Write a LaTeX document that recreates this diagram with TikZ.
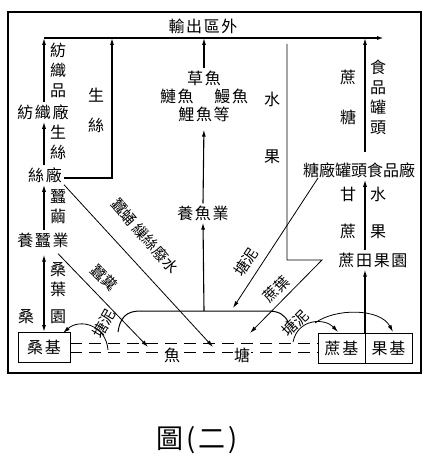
\documentclass[tikz,border=0pt]{standalone}
\usepackage{fontspec}
\newfontfamily\cjk[LetterSpace=10]{Noto Sans CJK TC}
\newfontfamily\cjktight{Noto Sans CJK TC}
\usetikzlibrary{positioning, arrows.meta}
\newcommand{\zh}{\cjk\fontsize{16}{20}\selectfont}

\begin{document}
\begin{tikzpicture}[
		x=1pt, y=-1pt,
		txt/.style={inner sep=2pt, align=center, font=\zh},
		slant/.style={inner sep=1pt, font=\cjktight\fontsize{15}{18}\selectfont},
		box/.style={draw, line width=1pt, rectangle, minimum width=47pt, minimum height=30pt, inner sep=0pt, outer sep=0pt, font=\zh},
		arrow/.style={-{Latex[length=7pt, width=4pt]}, line width=1.1pt},
		thin arrow/.style={-{Latex[length=7pt, width=4pt]}, line width=0.8pt},
		pond/.style={dash pattern=on 12pt off 7pt, line width=1pt}
		]
		\useasboundingbox (0,0) rectangle (432,465);
		\draw[line width=1.1pt] (8,12) rectangle (421,373);
		
		% Export line
		\coordinate (outL) at (44,38);
		\coordinate (outR) at (384,38);
		\draw[arrow, line width=1.4pt] (outL) -- (outR);
		\node[txt] (out) at (203,26) {輸出區外};
		
		% Mulberry side
		\node[txt] (fzc) at (43,112) {紡織廠};
		\node[txt] (sc) at (45,175) {絲廠};
		\node[txt] (ycy) at (43,240) {養蠶業};
		\node[box, minimum width=52pt] (sj) at (44,347) {桑基};
		
		\draw[arrow] (fzc.north -| outL) -- (outL);
		\draw[arrow] (sc.north -| outL) -- (fzc.south -| outL);
		\draw[arrow] (ycy.north -| outL) -- (sc.south -| outL);
		\draw[{Latex[length=7pt, width=4pt]}-{Latex[length=7pt, width=4pt]}, line width=1.1pt, shorten <=5pt] (ycy.south -| outL) -- (sj.north -| outL);
		
		\node[txt] (fzp) at (58,70) {紡\\織\\品};
		\node[txt] (ss1) at (58,142) {生\\絲};
		\node[txt] (cj) at (58,207) {蠶\\繭};
		\node[txt] (sy) at (58,280) {桑\\葉};
		\node[txt] (sang) at (26,317) {桑};
		\node[txt] (yuan) at (58,317) {園};
		\node[txt] (ss2) at (96,110) {生\\[10pt]絲};
		
		\coordinate (scR) at (112,178);
		\draw[arrow] (sc.east |- scR) -- (scR) -- (scR |- outL);
		
		% Fish
		\node[txt, font=\cjk\fontsize{16}{18}\selectfont] (fish) at (204,96) {草魚\\鰱魚\hspace{1.3em}鰻魚\\鯉魚等};
		\node[txt] (yyy) at (203,213) {養魚業};
		\coordinate (pondTop) at (204,311);
		\draw[arrow] (fish.north) -- (fish.north |- outL);
		\draw[arrow, shorten >=6pt] (yyy.north) -- (fish.south);
		\draw[arrow] (pondTop) -- (yyy.south);
		
		% Sugar cane and fruit side
		\node[box] (zj) at (341.5,348) {蔗基};
		\node[box, right=0pt of zj] (gj) {果基};
		\node[txt] (ztgy) at (373,260) {蔗田果園};
		\node[txt, font=\cjktight\fontsize{16}{20}\selectfont] (tc) at (359,170) {糖廠罐頭食品廠};
		\node[txt] (zt) at (348,97) {蔗\\[20pt]糖};
		\node[txt] (spgt) at (378,97) {食\\品\\罐\\頭};
		\node[txt] (gz) at (348,213) {甘\\[17pt]蔗};
		\node[txt] (sg1) at (378,213) {水\\[17pt]果};
		\node[txt] (sg2) at (272,128) {水\\[37pt]果};
		
		\draw[arrow] (zj.north east) -- (zj.north east |- ztgy.south);
		\draw[arrow] (zj.east |- ztgy.north) -- (zj.east |- tc.south);
		\draw[arrow, shorten <=8pt] (zj.east |- tc.north) -- (zj.east |- outL);
		
		% Pond
		\draw[pond] ([yshift=4pt]sj.east) -- ([yshift=4pt]sj.east -| zj.west);
		\draw[pond] ([yshift=-5pt]sj.east) -- ([yshift=-5pt]sj.east -| zj.west);
		\node[txt, fill=white, inner sep=1pt] (yu) at (172,355) {魚};
		\node[txt, fill=white, inner sep=1pt] (tang) at (242,355) {塘};
		\draw[line width=1pt] (118,332) .. controls (120,318) and (126,311) .. (140,311) -- (268,311) .. controls (279,311) and (285,315) .. (288,322);
		
		% Flows into and out of the pond
		\coordinate (cyEnd) at (213,347);
		\coordinate (cfEnd) at (148,347);
		\draw[thin arrow] (sc.south east) -- (cyEnd);
		\draw[thin arrow] ([xshift=15pt, yshift=-4pt]ycy.south) -- (cfEnd);
		\node[slant, rotate=-49] (cyl) at (145,236) {蠶蛹 繅絲廢水};
		\node[slant, rotate=-45] (cfl) at (104,278) {蠶糞};
		
		\coordinate (tnS) at (318,178);
		\coordinate (tnE) at (233,308);
		\draw[thin arrow] (tnS) -- (tnE);
		\node[slant, rotate=56] (tnl) at (246,262) {塘泥};
		
		\coordinate (sgTop) at (287,44);
		\coordinate (zyC) at (322,260);
		\coordinate (zyEnd) at (250,333);
		\draw[thin arrow] (sgTop) -- (sgTop |- zyC) -- (zyC) -- (zyEnd);
		\node[slant, rotate=45] (zyl) at (276,289) {蔗葉};
		
		\draw[thin arrow] (108,350) .. controls (106,325) and (80,318) .. (63,333);
		\node[slant, rotate=60] (tnl2) at (104,324) {塘泥};
		\draw[thin arrow] (293,342) .. controls (298,318) and (325,318) .. (338,332);
		\draw[thin arrow] (315,323) .. controls (335,308) and (380,308) .. (393,332);
		\node[slant, rotate=45] (tnl3) at (295,323) {塘泥};
		
		% Caption
		\node[font=\cjk\fontsize{27}{30}\selectfont] (cap) at (197,440) {圖(二)};
	\end{tikzpicture}
\end{document}
